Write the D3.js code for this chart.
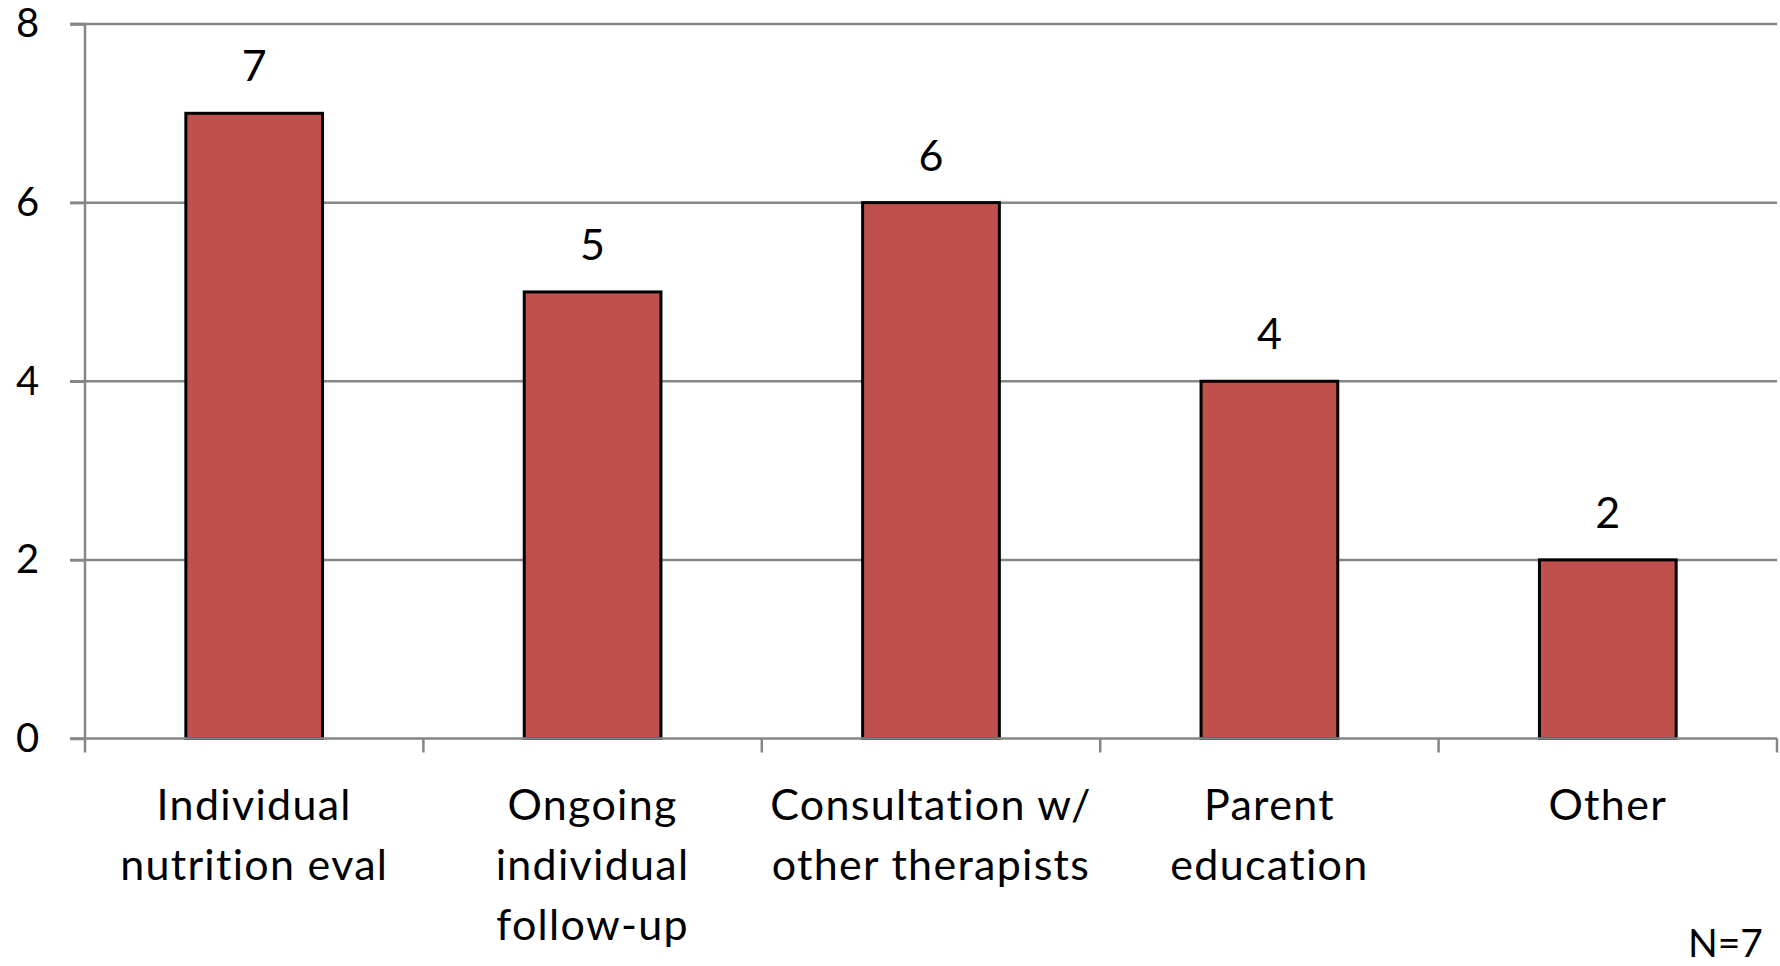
<!DOCTYPE html>
<html><head><meta charset="utf-8">
<script src="https://cdn.jsdelivr.net/npm/d3@7"></script>
<style>
html,body{margin:0;padding:0;background:#fff;}
svg{display:block;}
text{font-family:Lato,"Open Sans",sans-serif;fill:#000;}
</style></head>
<body>
<script>
const categories = [
  ["Individual", "nutrition eval"],
  ["Ongoing", "individual", "follow-up"],
  ["Consultation w/", "other therapists"],
  ["Parent", "education"],
  ["Other"]
];
const values = [7, 5, 6, 4, 2];
const yTicks = [0, 2, 4, 6, 8];
const note = "N=7";

const W = 1780, H = 966;
const mLeft = 85, mRight = 1777, mTop = 24, mBottom = 738.5;

const svg = d3.select("body").append("svg").attr("width", W).attr("height", H);

const keys = categories.map((c, i) => i);
const x = d3.scaleBand().domain(keys).range([mLeft, mRight]).paddingInner(0.596).paddingOuter(0.298);
const xb = d3.scaleBand().domain(keys).range([mLeft, mRight]).padding(0);
const y = d3.scaleLinear().domain([0, 8]).range([mBottom, mTop]);

const grid = "#868686";

// gridlines
svg.append("g").selectAll("line").data(yTicks.filter(d => d > 0)).join("line")
  .attr("x1", mLeft - 15).attr("x2", mRight)
  .attr("y1", d => y(d)).attr("y2", d => y(d))
  .attr("stroke", grid).attr("stroke-width", 2.5);

// y axis
const yAxis = d3.axisLeft(y).tickValues(yTicks).tickSize(15).tickPadding(42.5).tickFormat(d3.format("d"));
const gy = svg.append("g").attr("transform", `translate(${mLeft},0)`).call(yAxis);
gy.select(".domain").attr("stroke", grid).attr("stroke-width", 2.5).attr("d", `M-15,${y(8)}H0V${mBottom}`);
gy.selectAll(".tick line").attr("stroke", grid).attr("stroke-width", 2.5);
gy.selectAll(".tick text").attr("font-size", 40).attr("font-family", "Lato").attr("fill", "#000").attr("text-anchor", "middle");

// bars
svg.append("g").selectAll("rect").data(values).join("rect")
  .attr("x", (d, i) => x(i)).attr("width", x.bandwidth())
  .attr("y", d => y(d)).attr("height", d => y(0) - y(d))
  .attr("fill", "#C0504D").attr("stroke", "#000").attr("stroke-width", 3);

// x axis
const boundaries = keys.map(k => xb(k)).concat([mRight]);
const gx = svg.append("g");
gx.append("line").attr("x1", mLeft - 15).attr("x2", mRight).attr("y1", mBottom).attr("y2", mBottom)
  .attr("stroke", grid).attr("stroke-width", 2.5);
gx.selectAll("line.t").data(boundaries).join("line").attr("class", "t")
  .attr("x1", d => d).attr("x2", d => d).attr("y1", mBottom).attr("y2", mBottom + 14)
  .attr("stroke", grid).attr("stroke-width", 2.5);

// category labels
const labels = svg.append("g").selectAll("text").data(categories).join("text")
  .attr("x", (d, i) => xb(i) + xb.bandwidth() / 2)
  .attr("y", 820)
  .attr("text-anchor", "middle").attr("font-size", 43).attr("letter-spacing", 1.3);
labels.selectAll("tspan").data(d => d).join("tspan")
  .attr("x", function () { return d3.select(this.parentNode).attr("x"); })
  .attr("dy", (d, j) => j === 0 ? 0 : 60)
  .text(d => d);

// value labels
svg.append("g").selectAll("text").data(values).join("text")
  .attr("x", (d, i) => x(i) + x.bandwidth() / 2)
  .attr("y", d => y(d) - 32)
  .attr("text-anchor", "middle").attr("font-size", 43)
  .text(d => d);

// note
svg.append("text").attr("x", 1763).attr("y", 957).attr("text-anchor", "end")
  .attr("font-size", 39).text(note);
</script>
</body></html>
